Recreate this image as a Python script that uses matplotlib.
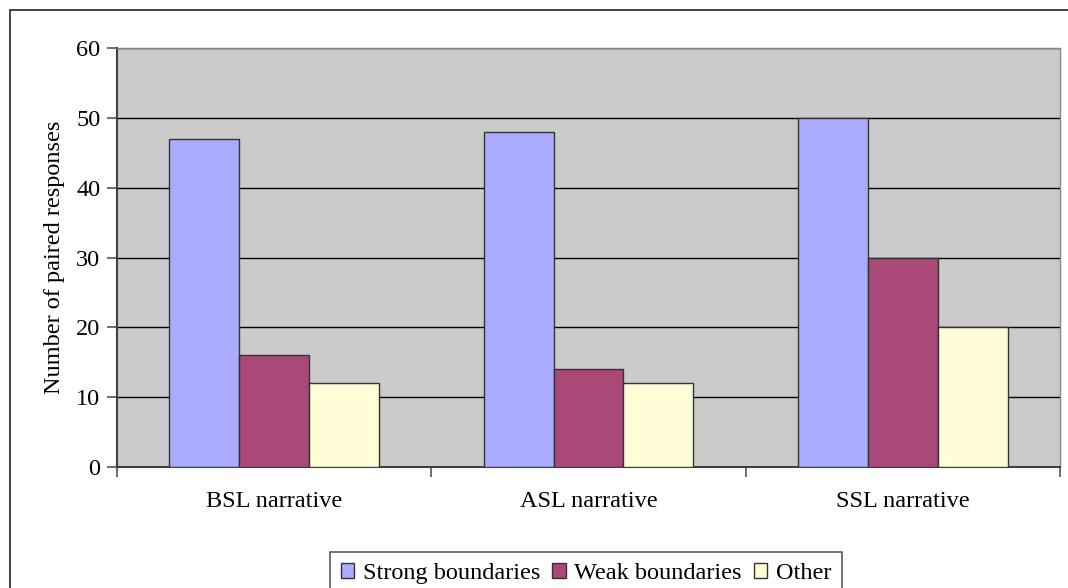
import matplotlib.pyplot as plt
import numpy as np
from matplotlib.patches import Rectangle

plt.rcParams["font.family"] = ["Liberation Serif", "DejaVu Serif"]

categories = ["BSL narrative", "ASL narrative", "SSL narrative"]
series_names = ["Strong boundaries", "Weak boundaries", "Other"]
strong = [47, 48, 50]
weak = [16, 14, 30]
other = [12, 12, 20]
y_ticks = [0, 10, 20, 30, 40, 50, 60]

colors = ["#AAAAFF", "#AA4877", "#FFFDD5"]
fs = 17.5

fig = plt.figure(figsize=(10.68, 5.88), dpi=100)
fig.patch.set_facecolor("white")

# outer chart border (runs off the right/bottom edges)
fig.patches.append(Rectangle((10 / 1068, -0.01), 1.02, 1 - 10 / 588 + 0.01,
                             transform=fig.transFigure, fill=False,
                             edgecolor="#222222", linewidth=1.2))

ax = fig.add_axes([117 / 1068, 1 - 467 / 588, (1060 - 117) / 1068, (467 - 48) / 588])
ax.set_facecolor("#CBCBCB")

x = np.arange(len(categories))
w = 1 / 4.5
for i, (vals, name) in enumerate(zip([strong, weak, other], series_names)):
    ax.bar(x + (i - 1) * w, vals, width=w, color=colors[i], edgecolor="#333333",
           linewidth=1.0, label=name, zorder=3)

ax.set_xlim(-0.5, len(categories) - 0.5)
ax.set_ylim(0, 60)
ax.set_yticks(y_ticks)
ax.yaxis.grid(True, color="black", linewidth=1.0, zorder=1)
ax.set_axisbelow(True)

# category labels centred, ticks on group boundaries
ax.set_xticks(np.arange(-0.5, len(categories)), minor=False)
ax.set_xticklabels([])
ax.set_xticks(x, minor=True)
ax.set_xticklabels(categories, minor=True, fontsize=fs)
ax.tick_params(axis="x", which="minor", length=0, pad=17)
ax.tick_params(axis="x", which="major", length=7, color="#555555", width=1.2)
ax.tick_params(axis="y", length=7, color="#555555", width=1.2, labelsize=fs, pad=5)

for side in ["left", "bottom"]:
    ax.spines[side].set_color("#404040")
    ax.spines[side].set_linewidth(1.5)
for side in ["top", "right"]:
    ax.spines[side].set_color("#888888")
    ax.spines[side].set_linewidth(1.0)

ax.set_ylabel("Number of paired responses", fontsize=fs, labelpad=8)

leg = fig.legend(loc="lower center", bbox_to_anchor=(586 / 1068, -0.012), ncol=3,
                 fontsize=fs, frameon=True, fancybox=False, handlelength=0.55,
                 handleheight=0.55, handletextpad=0.35, columnspacing=0.5,
                 borderpad=0.45, borderaxespad=0)
leg.get_frame().set_edgecolor("#333333")
leg.get_frame().set_linewidth(1.2)

fig.savefig("out.png", dpi=100)
